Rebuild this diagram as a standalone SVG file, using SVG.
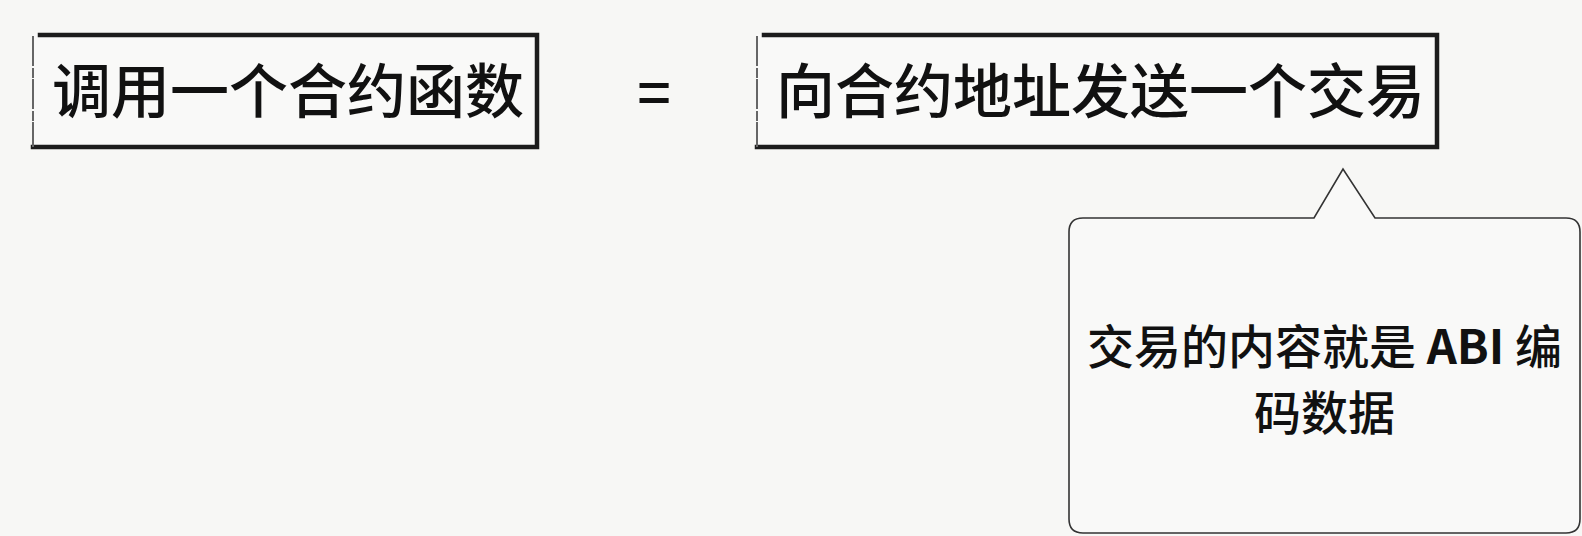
<svg xmlns="http://www.w3.org/2000/svg" width="1582" height="536" viewBox="0 0 1582 536">
  <style>
    .bg { fill: #f7f7f5; }
    .boxfill { fill: #f9f9f8; stroke: none; }
    .edge { stroke: #1c1c1c; stroke-width: 4.5; fill: none; stroke-linecap: square; }
    .edge-left { stroke: #666; stroke-width: 2; fill: none; stroke-dasharray: 30 2 10 1; }
    .big { font-family: "Noto Sans CJK SC", "Noto Sans", sans-serif; font-size: 59px; font-weight: 500; fill: #111; }
    .callout { fill: #f9f9f8; stroke: #333; stroke-width: 1.6; }
    .note { font-family: "Noto Sans CJK SC", "Noto Sans", sans-serif; font-size: 47px; font-weight: 500; fill: #111; text-anchor: middle; }
    .strong { font-weight: 700; }
  </style>
  <rect class="bg" x="0" y="0" width="1582" height="536"/>

  <g id="node-call">
    <rect class="boxfill" x="33" y="34" width="504" height="114"/>
    <path class="edge" d="M40 35 L537 35 L537 147 L33 147"/>
    <path class="edge-left" d="M33 36 L33 147"/>
    <text class="big" x="52" y="113">调用一个合约函数</text>
  </g>

  <g id="node-equals">
    <text class="big" x="654" y="115" text-anchor="middle" font-weight="700">=</text>
  </g>

  <g id="node-tx">
    <rect class="boxfill" x="757" y="34" width="681" height="114"/>
    <path class="edge" d="M764 35 L1437 35 L1437 147 L757 147"/>
    <path class="edge-left" d="M757 36 L757 147"/>
    <text class="big" x="776" y="113">向合约地址发送一个交易</text>
  </g>

  <g id="node-note">
    <path class="callout" d="M1083 218 L1314 218 L1343 169 L1375 218 L1566 218 Q1580 218 1580 232 L1580 519 Q1580 533 1566 533 L1083 533 Q1069 533 1069 519 L1069 232 Q1069 218 1083 218 Z"/>
    <text class="note" x="1324.5" y="364">交易的内容就是 <tspan class="strong">ABI</tspan> 编</text>
    <text class="note" x="1324.5" y="430">码数据</text>
  </g>

  <g id="connectors"></g>
</svg>
